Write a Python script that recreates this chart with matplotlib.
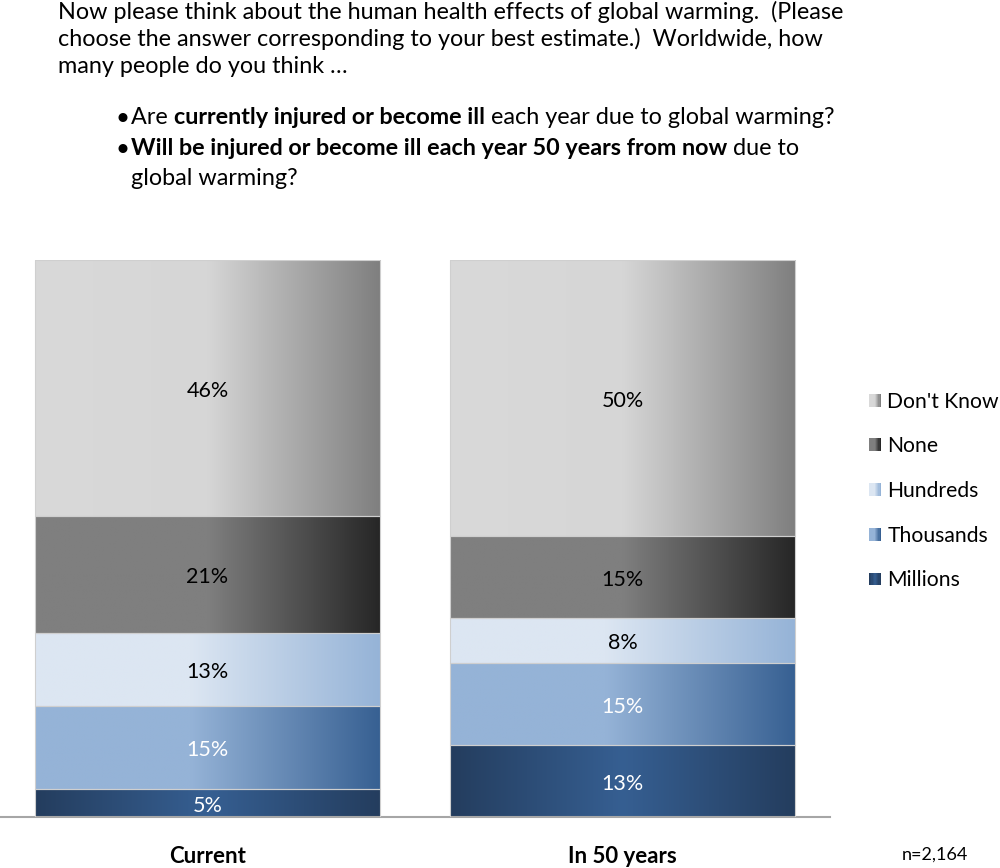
import numpy as np
import matplotlib
matplotlib.use("Agg")
import matplotlib.pyplot as plt
import matplotlib.colors as mcolors
from matplotlib.patches import Rectangle
from matplotlib.legend_handler import HandlerBase

plt.rcParams['font.family'] = ['Lato', 'DejaVu Sans']

categories = ['Current', 'In 50 years']
series = ['Millions', 'Thousands', 'Hundreds', 'None', "Don't Know"]
values = {
    'Millions':   [5, 13],
    'Thousands':  [15, 15],
    'Hundreds':   [13, 8],
    'None':       [21, 15],
    "Don't Know": [46, 50],
}
label_colors = {
    'Millions': 'white', 'Thousands': 'white', 'Hundreds': 'black',
    'None': 'black', "Don't Know": 'black',
}
# gradient stops (position across bar, colour)
gradients = {
    'Millions':   [(0, '#243d5e'), (0.5, '#365f92'), (1, '#243d5e')],
    'Thousands':  [(0, '#95b3d7'), (0.45, '#95b3d7'), (1, '#376092')],
    'Hundreds':   [(0, '#dce6f2'), (0.45, '#dce6f2'), (1, '#95b3d7')],
    'None':       [(0, '#7f7f7f'), (0.5, '#7f7f7f'), (1, '#262626')],
    "Don't Know": [(0, '#d9d9d9'), (0.5, '#d6d6d6'), (1, '#7f7f7f')],
}
n_label = 'n=2,164'
FS = 15.5
TFS = 16.85


def grad_colors(stops, n):
    xs = np.linspace(0, 1, n)
    pos = [s[0] for s in stops]
    cols = np.array([mcolors.to_rgb(s[1]) for s in stops])
    return np.stack([np.interp(xs, pos, cols[:, i]) for i in range(3)], axis=-1)


class GradHandler(HandlerBase):
    def __init__(self, stops):
        super().__init__()
        self.stops = stops

    def create_artists(self, legend, orig_handle, xdescent, ydescent,
                       width, height, fontsize, trans):
        n = 10
        cols = grad_colors(self.stops, n)
        arts = []
        for i in range(n):
            arts.append(Rectangle((-xdescent + i * width / n, -ydescent), width / n, height,
                                  facecolor=cols[i], edgecolor='none', transform=trans))
        return arts


fig = plt.figure(figsize=(10, 8.68), dpi=100)
W, H = 1000, 868
ax = fig.add_axes([0.0, 1 - 817 / H, 0.83, (817 - 260) / H])

x = np.arange(len(categories))
totals = np.sum([values[s] for s in series], axis=0)
bottom = np.zeros(len(categories))
for s in series:
    v = np.array(values[s], dtype=float)
    frac = v / totals * 100
    bars = ax.bar(x, frac, width=0.833, bottom=bottom, facecolor='none',
                  edgecolor='#cfcfcf', linewidth=0.8, zorder=3)
    img = grad_colors(gradients[s], 256)[np.newaxis, :, :]
    for i, p in enumerate(bars.patches):
        x0, y0, w, h = p.get_x(), p.get_y(), p.get_width(), p.get_height()
        im = ax.imshow(img, extent=[x0, x0 + w, y0, y0 + h], aspect='auto',
                       interpolation='bilinear', zorder=2)
        im.set_clip_path(p)
        ax.text(x0 + w / 2, y0 + h / 2 - 0.5, f'{int(v[i])}%', ha='center', va='center',
                fontsize=FS, color=label_colors[s], zorder=4)
    bottom += frac

ax.set_xlim(-0.5, 1.5)
ax.set_ylim(0, 100)
for side in ['left', 'right', 'top']:
    ax.spines[side].set_visible(False)
ax.spines['bottom'].set_color('#a6a6a6')
ax.spines['bottom'].set_linewidth(1.5)
ax.set_yticks([])
ax.set_xticks(x, categories, fontsize=16, fontweight='bold')
ax.tick_params(axis='x', length=0, pad=21)

handles = [Rectangle((0, 0), 1, 1) for _ in series]
hmap = {h: GradHandler(gradients[s]) for h, s in zip(handles, series)}
order = list(range(len(series)))[::-1]
fig.legend([handles[i] for i in order], [series[i] for i in order], handler_map=hmap,
           loc='center left', bbox_to_anchor=(0.850, 1 - 491 / H), frameon=False,
           fontsize=15.2, handlelength=0.56, handleheight=0.56, handletextpad=0.3,
           labelspacing=1.17)

fig.text(935 / W, 1 - 855 / H, n_label, ha='center', va='center', fontsize=FS - 2.5)

# question text with mixed bold runs
renderer = fig.canvas.get_renderer()


def draw_runs(x_px, base_px, runs):
    xp = x_px
    for txt, wt in runs:
        t = fig.text(xp / W, 1 - base_px / H, txt, fontsize=TFS, fontweight=wt,
                     ha='left', va='baseline')
        bb = t.get_window_extent(renderer=renderer)
        xp += bb.width


draw_runs(58, 19, [('Now please think about the human health effects of global warming.  (Please', 'normal')])
draw_runs(58, 46, [('choose the answer corresponding to your best estimate.)  Worldwide, how', 'normal')])
draw_runs(58, 73, [('many people do you think \u2026', 'normal')])
for yb in (124, 155):
    fig.text(116 / W, 1 - yb / H, '\u2022', fontsize=TFS - 2, fontweight='bold',
             ha='left', va='baseline')
draw_runs(131, 124, [('Are ', 'normal'),
                     ('currently injured or become ill', 'bold'),
                     (' each year due to global warming?', 'normal')])
draw_runs(131, 155, [('Will be injured or become ill each year 50 years from now', 'bold'),
                     (' due to', 'normal')])
draw_runs(131, 185, [('global warming?', 'normal')])

fig.savefig('out.png', dpi=100)
